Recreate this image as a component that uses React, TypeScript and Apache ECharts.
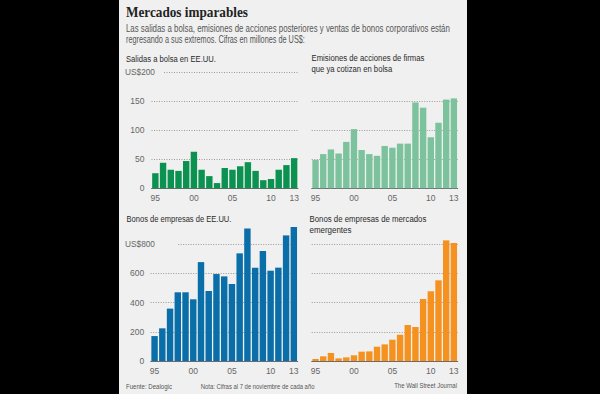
import React, { useEffect, useRef } from 'react';
import * as echarts from 'echarts';

// ---------- data ----------
const years = [1995, 1996, 1997, 1998, 1999, 2000, 2001, 2002, 2003, 2004, 2005, 2006, 2007, 2008, 2009, 2010, 2011, 2012, 2013];
const xTickYears = [1995, 2000, 2005, 2010, 2013];
const ipoUS = [26, 44, 32, 30, 47, 63, 32, 21, 9, 35, 32, 38, 45, 30, 14, 16, 32, 40, 52];
const followOn = [49, 59, 67, 60, 80, 102, 66, 59, 56, 73, 70, 77, 77, 148, 139, 88, 113, 153, 155];
const usBonds = [171, 224, 359, 471, 471, 423, 678, 480, 596, 580, 528, 738, 909, 640, 754, 619, 640, 861, 918];
const emBonds = [14, 32, 55, 18, 25, 39, 64, 66, 98, 114, 146, 180, 247, 233, 425, 478, 553, 827, 809];
const equityTicks = [0, 50, 100, 150, 200];
const bondTicks = [0, 200, 400, 600, 800];

const titleText = 'Mercados imparables';
const subtitle1 = 'Las salidas a bolsa, emisiones de acciones posteriores y ventas de bonos corporativos están';
const subtitle2 = 'regresando a sus extremos. Cifras en millones de US$:';
const head1 = ['Salidas a bolsa en EE.UU.'];
const head2 = ['Emisiones de acciones de firmas', 'que ya cotizan en bolsa'];
const head3 = ['Bonos de empresas de EE.UU.'];
const head4 = ['Bonos de empresas de mercados', 'emergentes'];
const sourceText = 'Fuente: Dealogic';
const noteText = 'Nota: Cifras al 7 de noviembre de cada año';
const creditText = 'The Wall Street Journal';

// ---------- style ----------
const PANEL = '#f0f0f0';
const SANS = '"Liberation Sans Narrow", "Liberation Sans", Arial, sans-serif';
const SERIF = '"Liberation Serif", "DejaVu Serif", serif';
const GRID_COLOR = '#9a9a9a';

let ctx: CanvasRenderingContext2D | null = null;
function measure(text: string, font: string): number {
  if (!ctx) ctx = document.createElement('canvas').getContext('2d');
  if (!ctx) return text.length * 5;
  ctx.font = font;
  return ctx.measureText(text).width;
}

function fitText(text: string, x: number, y: number, width: number, size: number, opts: any = {}) {
  const family = opts.family || SANS;
  const weight = opts.weight || 'normal';
  const w = measure(text, `${weight} ${size}px ${family}`);
  const s = w > 0 ? width / w : 1;
  const align = opts.align || 'left';
  return {
    type: 'text',
    x,
    y,
    scaleX: s,
    z: 100,
    silent: true,
    style: {
      text,
      x: 0,
      y: 0,
      fontSize: size,
      fontFamily: family,
      fontWeight: weight,
      fill: opts.color || '#333',
      textAlign: align,
      align,
      textVerticalAlign: 'middle',
      verticalAlign: 'middle',
    },
  };
}

const grids = [
  { left: 151.5, top: 72.3, width: 146.5, height: 116 },
  { left: 311.7, top: 72.3, width: 146, height: 116 },
  { left: 150.7, top: 244.3, width: 147, height: 116.7 },
  { left: 311.7, top: 244.3, width: 146, height: 116.7 },
];

export default function App() {
  const ref = useRef<HTMLDivElement>(null);

  useEffect(() => {
    if (!ref.current) return;
    const chart = echarts.init(ref.current, undefined, { renderer: 'svg' });

    const seriesData = [ipoUS, followOn, usBonds, emBonds];
    const colors = ['#0b9150', '#7cc29c', '#0a6ea8', '#f5911e'];
    const tickSets = [equityTicks, equityTicks, bondTicks, bondTicks];
    const showYLabels = [true, false, true, false];

    const xAxis = grids.map((_, i) => ({
      type: 'category',
      gridIndex: i,
      data: years.map(String),
      boundaryGap: true,
      axisLine: { show: true, lineStyle: { color: '#6a6a6a', width: 1 } },
      axisTick: { show: false },
      axisLabel: {
        interval: (idx: number, val: string) => xTickYears.includes(Number(val)),
        formatter: (v: string) => v.slice(2),
        color: '#666',
        fontSize: 8.5,
        fontFamily: SANS,
        margin: 5,
      },
      splitLine: { show: false },
    }));

    const yAxis = grids.map((_, i) => {
      const ticks = tickSets[i];
      const max = ticks[ticks.length - 1];
      const lineColors = ticks.map((t, k) => {
        if (k === 0) return 'transparent';
        if (i === 1 && t === max) return 'transparent';
        return GRID_COLOR;
      });
      return {
        type: 'value',
        gridIndex: i,
        min: ticks[0],
        max,
        interval: ticks[1] - ticks[0],
        axisLine: { show: false },
        axisTick: { show: false },
        axisLabel: {
          show: showYLabels[i],
          formatter: (v: number) => (v === max ? '' : String(v)),
          color: '#666',
          fontSize: 8.5,
          fontFamily: SANS,
          margin: i === 0 ? 7 : 6.5,
        },
        splitLine: { show: true, lineStyle: { color: lineColors, type: [1, 1.5], width: 1 } },
      };
    });

    const series = seriesData.map((d, i) => ({
      type: 'bar',
      xAxisIndex: i,
      yAxisIndex: i,
      data: d,
      clip: false,
      barCategoryGap: '17%',
      itemStyle: { color: colors[i] },
      silent: true,
    }));

    const topLabel = (gi: number, ticks: number[], coverTo: number) => {
      const g = grids[gi];
      const max = ticks[ticks.length - 1];
      return [
        { type: 'rect', z: 90, silent: true, shape: { x: 122, y: g.top - 2, width: coverTo - 122, height: 4 }, style: { fill: PANEL } },
        fitText('US$' + max, 125, g.top, 30, 8.5, { color: '#666' }),
      ];
    };

    const graphic: any[] = [
      fitText(titleText, 126, 11.5, 122, 15, { family: SERIF, weight: 'bold', color: '#222' }),
      fitText(subtitle1, 126, 28.8, 324, 10, { color: '#555' }),
      fitText(subtitle2, 126, 40, 179, 10, { color: '#555' }),
      fitText(head1[0], 126, 58.5, 90, 9.5, { color: '#2a2a2a' }),
      fitText(head2[0], 311.5, 58, 113, 9.5, { color: '#2a2a2a' }),
      fitText(head2[1], 311.5, 68.5, 81, 9.5, { color: '#2a2a2a' }),
      fitText(head3[0], 126.5, 218.5, 105, 9.5, { color: '#2a2a2a' }),
      fitText(head4[0], 309.5, 218.5, 117, 9.5, { color: '#2a2a2a' }),
      fitText(head4[1], 309.5, 229.5, 42, 9.5, { color: '#2a2a2a' }),
      fitText(sourceText, 126, 386.5, 46, 8, { color: '#555' }),
      fitText(noteText, 200.7, 386.5, 114, 8, { color: '#555' }),
      fitText(creditText, 457, 385.5, 63, 8, { color: '#555', align: 'right' }),
      ...topLabel(0, equityTicks, 163),
      ...topLabel(2, bondTicks, 177),
    ];

    chart.setOption({
      animation: false,
      backgroundColor: 'transparent',
      grid: grids.map((g) => ({ ...g, containLabel: false })),
      xAxis,
      yAxis,
      series,
      graphic,
    });

    return () => chart.dispose();
  }, []);

  return (
    <div style={{ position: 'fixed', left: 0, top: 0, width: 600, height: 394, background: '#000' }}>
      <div style={{ position: 'absolute', left: 119, top: 0, width: 348, height: 394, background: PANEL }} />
      <div ref={ref} style={{ position: 'absolute', left: 0, top: 0, width: 600, height: 394 }} />
    </div>
  );
}
